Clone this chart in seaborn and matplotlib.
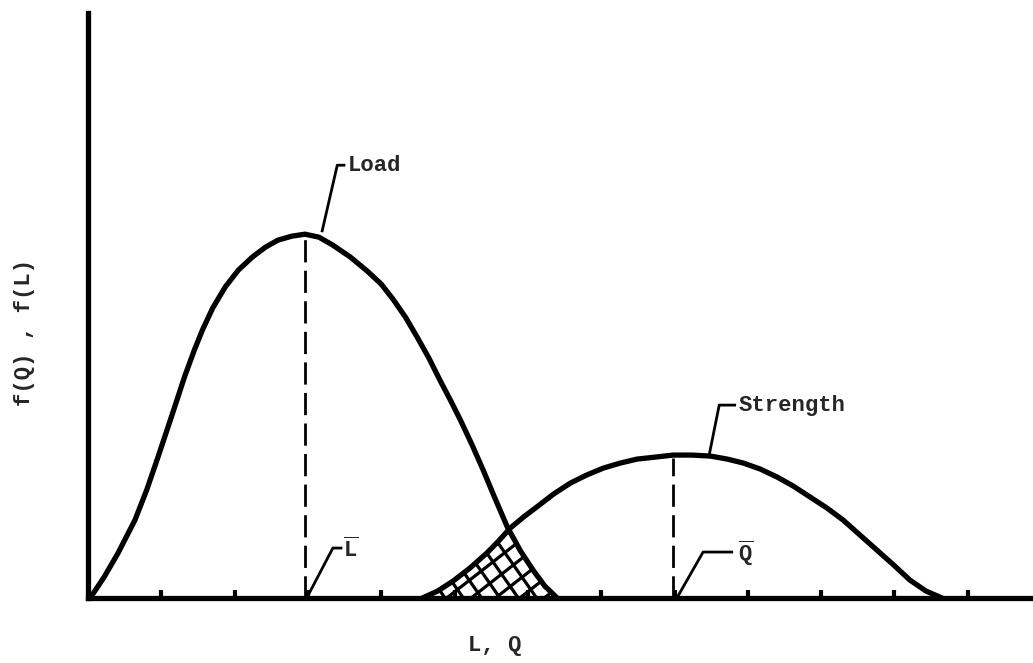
import numpy as np
import pandas as pd
import matplotlib
matplotlib.use("Agg")
import matplotlib.pyplot as plt
from matplotlib.patches import Polygon
import seaborn as sns

# Load curve (x in tick units, y in arbitrary height units)
load_x = [0.03, 0.22, 0.41, 0.64, 0.80, 0.95, 1.15, 1.32, 1.45, 1.56, 1.70,
          1.87, 2.05, 2.24, 2.42, 2.59, 2.78, 2.96, 3.15, 3.34, 3.58, 3.81,
          4.00, 4.16, 4.33, 4.49, 4.65, 4.80, 4.95, 5.08, 5.24, 5.39, 5.55,
          5.72, 5.90, 6.07, 6.23, 6.40]
load_y = [0, 21, 45, 78, 108, 140, 184, 222, 248, 268, 290,
          311, 328, 341, 351, 358, 362, 364, 361, 353, 341, 327,
          314, 299, 281, 261, 240, 218, 197, 178, 153, 128, 100,
          71, 47, 28, 12, 0]

# Strength curve
strength_x = [4.56, 4.77, 4.98, 5.21, 5.44, 5.60, 5.76, 5.94, 6.12, 6.35,
              6.58, 6.80, 7.03, 7.26, 7.49, 7.74, 7.98, 8.24, 8.49, 8.72,
              8.94, 9.17, 9.40, 9.62, 9.85, 10.08, 10.30, 10.53, 10.76,
              10.99, 11.21, 11.43, 11.65]
strength_y = [0, 7, 17, 30, 45, 57, 70, 81, 91, 104,
              115, 123, 130, 135, 139, 141, 143, 143, 142, 139,
              135, 129, 121, 112, 101, 90, 78, 63, 48,
              33, 18, 7, 0]

tick_pos = list(range(1, 13))
curve_labels = ["Load", "Strength"]
mean_labels = [r"$\overline{\mathrm{L}}$", r"$\overline{\mathrm{Q}}$"]
x_label = "L, Q"
y_label = "f(Q) , f(L)"

PX_PER_X = 73.3   # one x unit in pixels (y units are already pixels)


def leader(ax, x0, y0, dx, dy, hx, text, fs):
    # slanted leader + short horizontal stroke, then the label
    ax.plot([x0, x0 + dx, x0 + dx + hx], [y0, y0 + dy, y0 + dy],
            color="black", lw=2.0, solid_capstyle="butt", clip_on=False)
    if text:
        ax.text(x0 + dx + hx + 0.03, y0 + dy, text, fontsize=fs, va="center",
                ha="left", fontweight="bold")


def cross_hatch(ax, verts, angles, spacing, lw):
    # hand-drawn style hatch lines clipped to the overlap polygon
    patch = Polygon(verts, closed=True, facecolor="none", edgecolor="none")
    ax.add_patch(patch)
    cx = verts[:, 0].mean() * PX_PER_X
    cy = verts[:, 1].mean()
    for ang in angles:
        a = np.deg2rad(ang)
        d = np.array([np.cos(a), np.sin(a)])
        n = np.array([-d[1], d[0]])
        for k in range(-12, 13):
            c = np.array([cx, cy]) + n * k * spacing
            p0, p1 = c - d * 200, c + d * 200
            ln, = ax.plot([p0[0] / PX_PER_X, p1[0] / PX_PER_X], [p0[1], p1[1]],
                          color="black", lw=lw, solid_capstyle="butt")
            ln.set_clip_path(patch)


def main():
    sns.set_theme(style="white")
    plt.rcParams["font.family"] = ["Liberation Mono", "DejaVu Sans"]
    plt.rcParams["mathtext.fontset"] = "custom"
    plt.rcParams["mathtext.rm"] = "Liberation Mono:bold"

    fig = plt.figure(figsize=(10.33, 6.63), dpi=100)
    ax = fig.add_axes([0.0852, 0.098, 0.9148, 0.882])

    df = pd.concat([
        pd.DataFrame({"x": load_x, "y": load_y, "curve": curve_labels[0]}),
        pd.DataFrame({"x": strength_x, "y": strength_y, "curve": curve_labels[1]}),
    ])
    sns.lineplot(data=df, x="x", y="y", units="curve", estimator=None, sort=False,
                 color="black", lw=3.8, ax=ax, legend=False, zorder=3)

    # overlap region (under both curves)
    grid = np.linspace(strength_x[0], load_x[-1], 200)
    lo = np.interp(grid, load_x, load_y)
    st = np.interp(grid, strength_x, strength_y)
    top = np.minimum(lo, st)
    verts = np.column_stack([np.r_[grid, grid[::-1]], np.r_[top, np.zeros_like(top)]])
    cross_hatch(ax, verts, angles=[38, -55], spacing=15, lw=2.3)

    # dashed mean lines
    li = int(np.argmax(load_y))
    si = int(np.argmax(strength_y))
    for mx, my in [(load_x[li], load_y[li]), (strength_x[si], strength_y[si])]:
        ax.vlines(mx, 0, my - 3, colors="black", lw=2.0, linestyles=(0, (8, 3)))

    fs = 16
    leader(ax, load_x[li] + 0.23, load_y[li] + 2, 0.21, 67, 0.11, curve_labels[0], fs)
    leader(ax, strength_x[si] + 0.49, strength_y[si] - 1, 0.14, 51, 0.23, curve_labels[1], fs)
    leader(ax, load_x[li] + 0.03, 1, 0.35, 49, 0.13, "", fs)
    ax.text(load_x[li] + 0.52, 41, mean_labels[0], fontsize=fs, va="baseline", ha="left")
    leader(ax, strength_x[si] + 0.06, 1, 0.35, 45, 0.41, "", fs)
    ax.text(strength_x[si] + 0.88, 37, mean_labels[1], fontsize=fs, va="baseline", ha="left")

    ax.set_xlim(0, 12.89)
    ax.set_ylim(0, 585)
    ax.set_xticks(tick_pos)
    ax.set_xticklabels([])
    ax.set_yticks([])
    ax.tick_params(axis="x", direction="in", length=6, width=3, color="black", bottom=True)
    for side in ["top", "right"]:
        ax.spines[side].set_visible(False)
    for side in ["left", "bottom"]:
        ax.spines[side].set_color("black")
        ax.spines[side].set_linewidth(3.8)

    ax.set_xlabel("")
    ax.set_ylabel("")
    fig.text(495 / 1033, 1 - 645 / 663, x_label, fontsize=fs, fontweight="bold",
             ha="center", va="center")
    fig.text(25 / 1033, 1 - 332 / 663, y_label, fontsize=fs, fontweight="bold",
             ha="center", va="center", rotation=90)

    fig.savefig("out.png", dpi=100, facecolor="white")
    plt.close(fig)


if __name__ == "__main__":
    main()
